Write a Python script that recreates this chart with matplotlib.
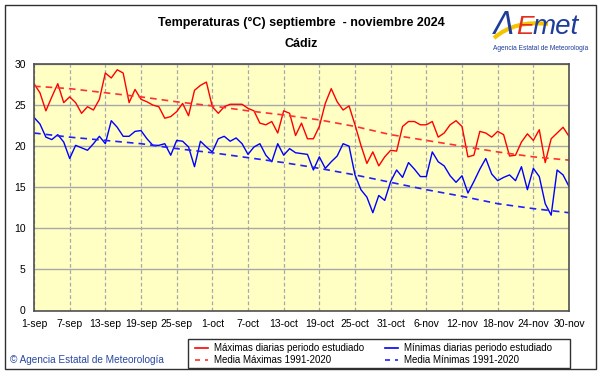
import numpy as np
import matplotlib.pyplot as plt
from matplotlib.patches import Rectangle, PathPatch
from matplotlib.path import Path

# Daily max / min temperatures, Cadiz, 1 Sep - 30 Nov 2024
tmax = [27.6, 26.5, 24.3, 26.0, 27.6, 25.3, 26.0, 25.3, 24.0, 24.8,
        24.4, 25.7, 28.9, 28.3, 29.3, 28.9, 25.3, 26.9, 25.7, 25.4,
        25.0, 24.8, 23.4, 23.6, 24.2, 25.2, 23.7, 26.8, 27.4, 27.8,
        24.8, 24.0, 24.8, 25.1, 25.1, 25.1, 24.6, 24.3, 22.8, 22.6,
        23.0, 21.6, 24.3, 24.0, 21.3, 22.8, 20.9, 20.9, 22.4, 25.2,
        27.0, 25.4, 24.4, 24.9, 22.6, 20.1, 17.9, 19.3, 17.6, 18.7,
        19.5, 19.4, 22.4, 23.0, 23.0, 22.6, 22.6, 23.0, 21.1, 21.6,
        22.6, 23.1, 22.4, 18.7, 18.9, 21.8, 21.6, 21.1, 21.8, 21.4,
        18.8, 18.9, 20.5, 21.5, 20.7, 22.0, 18.0, 20.9, 21.6, 22.3,
        21.2]
tmin = [23.5, 22.7, 21.1, 20.8, 21.4, 20.5, 18.5, 20.1, 19.8, 19.5,
        20.3, 21.2, 20.3, 23.1, 22.3, 21.2, 21.2, 21.8, 21.9, 20.9,
        20.1, 20.1, 20.3, 18.9, 20.7, 20.6, 19.9, 17.5, 20.6, 19.9,
        19.3, 20.9, 21.2, 20.6, 21.0, 20.3, 19.0, 19.9, 20.3, 18.9,
        18.1, 20.3, 18.9, 19.7, 19.2, 19.1, 19.0, 17.1, 18.7, 17.3,
        18.1, 18.8, 20.3, 20.0, 16.5, 14.7, 13.8, 11.9, 14.0, 13.4,
        15.7, 17.1, 16.2, 18.0, 17.2, 16.3, 16.3, 19.3, 18.1, 17.6,
        16.4, 15.6, 16.4, 14.3, 15.7, 17.2, 18.5, 16.6, 15.8, 16.2,
        16.5, 15.8, 17.5, 14.7, 17.3, 16.3, 13.0, 11.6, 17.1, 16.5,
        15.1]

# 1991-2020 normals, read at each labelled day
tick_days = [0, 6, 12, 18, 24, 30, 36, 42, 48, 54, 60, 66, 72, 78, 84, 90]
tick_labels = ['1-sep', '7-sep', '13-sep', '19-sep', '25-sep', '1-oct', '7-oct',
               '13-oct', '19-oct', '25-oct', '31-oct', '6-nov', '12-nov',
               '18-nov', '24-nov', '30-nov']
norm_max = [27.3, 27.0, 26.5, 26.0, 25.4, 24.9, 24.3, 23.8, 23.2, 22.4,
            21.4, 20.7, 20.0, 19.3, 18.7, 18.3]
norm_min = [21.6, 21.1, 20.7, 20.3, 19.7, 19.2, 18.6, 18.0, 17.3, 16.5,
            15.6, 14.7, 13.9, 13.0, 12.4, 11.9]

days = np.arange(len(tmax))
W, H = 601, 374

plt.rcParams['font.family'] = ['Liberation Sans', 'DejaVu Sans']
fig = plt.figure(figsize=(W / 100, H / 100), dpi=100)
fig.patch.set_facecolor('white')

# outer frame
fig.patches.append(Rectangle((5 / W, 5 / H), 591 / W, 364 / H, transform=fig.transFigure,
                             fill=False, edgecolor='#303030', linewidth=1))

ax = fig.add_axes([34 / W, 1 - 310.5 / H, 535 / W, 246.5 / H])
ax.set_facecolor('#FFFFC4')

ax.plot(days, tmax, color='#FF0000', linewidth=1)
ax.plot(days, tmin, color='#0000FF', linewidth=1)
ax.plot(tick_days, norm_max, color='#FF3030', linewidth=1.2, dashes=(4, 3))
ax.plot(tick_days, norm_min, color='#2020FF', linewidth=1.2, dashes=(4, 3))

ax.set_xlim(0, 90)
ax.set_ylim(0, 30)
ax.set_yticks(range(0, 31, 5))
ax.set_xticks(tick_days)
ax.set_xticklabels(tick_labels)
ax.tick_params(length=0, labelsize=7.5, pad=6)
ax.yaxis.grid(True, color='#A8A8A8', linewidth=1, linestyle='-')
ax.xaxis.grid(True, color='#A8A8A8', linewidth=0.9, linestyle=(0, (3, 2)))
ax.set_axisbelow(True)
for s in ax.spines.values():
    s.set_color('#505050')
    s.set_linewidth(1.2)

# titles
fig.text(0.5 * (34 + 569) / W, 1 - 23 / H, 'Temperaturas (°C) septiembre  - noviembre 2024',
         ha='center', va='center', fontsize=9, fontweight='bold')
fig.text(0.5 * (34 + 569) / W, 1 - 44 / H, 'Cádiz',
         ha='center', va='center', fontsize=9, fontweight='bold')

# AEMET logo (approximation)
swoosh = Path([(494 / W, 1 - 38 / H), (515 / W, 1 - 20 / H), (548 / W, 1 - 24 / H)],
              [Path.MOVETO, Path.CURVE3, Path.CURVE3])
fig.patches.append(PathPatch(swoosh, transform=fig.transFigure, fill=False,
                             edgecolor='#F5C400', linewidth=3))
fig.text(494 / W, 1 - 26 / H, 'Λ', color='#1F3C99', fontsize=22, ha='left', va='center',
         family='DejaVu Sans', style='italic')
fig.text(516 / W, 1 - 27 / H, 'E', color='#E03020', fontsize=19, ha='left', va='center',
         style='italic')
fig.text(533 / W, 1 - 27 / H, 'met', color='#1F3C99', fontsize=20, ha='left', va='center',
         style='italic')
fig.text(541 / W, 1 - 49 / H, 'Agencia Estatal de Meteorología', color='#1F3C99',
         fontsize=4.8, ha='center', va='center')

fig.text(10 / W, 1 - 360 / H, '© Agencia Estatal de Meteorología', color='#2848A0',
         fontsize=7.2, ha='left', va='center')

# legend box
fig.patches.append(Rectangle((188 / W, 1 - 368 / H), 382 / W, 29 / H, transform=fig.transFigure,
                             facecolor='white', edgecolor='#303030', linewidth=1))
leg = [(195, 348, '#FF0000', '-', 'Máximas diarias periodo estudiado'),
       (385, 348, '#0000FF', '-', 'Mínimas diarias periodo estudiado'),
       (195, 360, '#FF3030', '--', 'Media Máximas 1991-2020'),
       (385, 360, '#2020FF', '--', 'Media Mínimas 1991-2020')]
for x0, y0, c, ls, txt in leg:
    yy = 1 - y0 / H
    if ls == '-':
        fig.add_artist(plt.Line2D([x0 / W, (x0 + 13) / W], [yy, yy], color=c, linewidth=1.2))
    else:
        fig.add_artist(plt.Line2D([x0 / W, (x0 + 13) / W], [yy, yy], color=c, linewidth=1.2,
                                  dashes=(3, 3)))
    fig.text((x0 + 19) / W, yy, txt, fontsize=7, ha='left', va='center')

fig.savefig('out.png', dpi=100)
